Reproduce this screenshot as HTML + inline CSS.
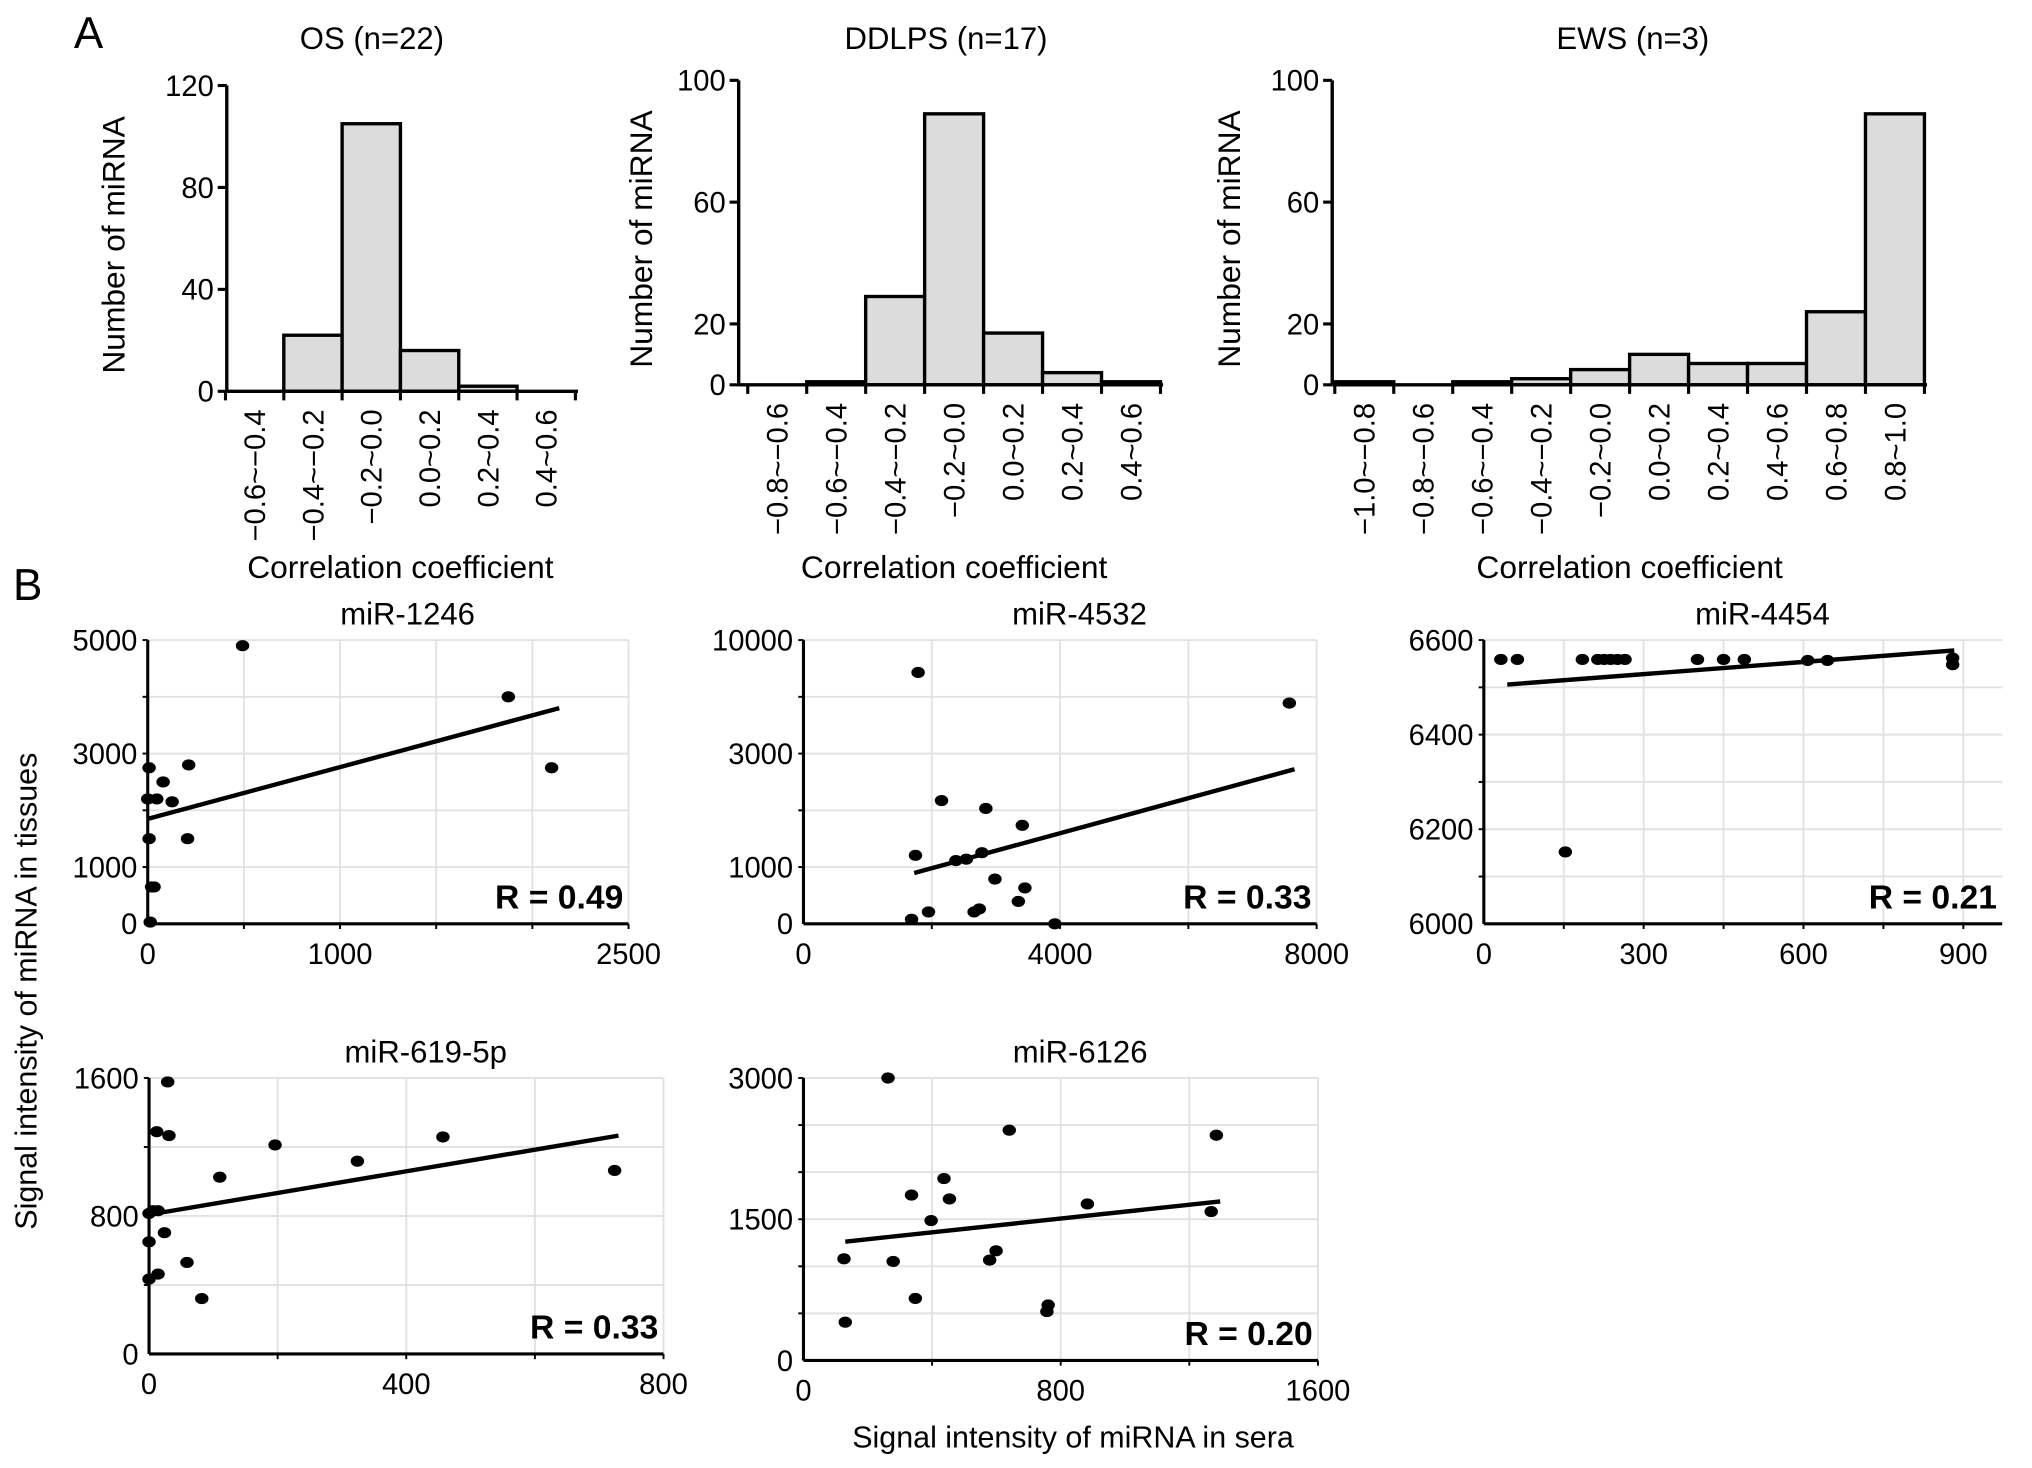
<!DOCTYPE html>
<html><head><meta charset="utf-8"><style>
html,body{margin:0;padding:0;background:#fff;}
svg{display:block;font-family:"Liberation Sans",Arial,sans-serif;}
</style></head><body>
<svg id="fig" width="2032" height="1468" viewBox="0 0 1568 1133" preserveAspectRatio="none" xmlns="http://www.w3.org/2000/svg"></svg>
<script>
// ---------- Histogram data ----------
const osCats = ["−0.6~−0.4","−0.4~−0.2","−0.2~0.0","0.0~0.2","0.2~0.4","0.4~0.6"];
const osVals = [0,22,105,16,2,0];
const osTicks = [0,40,80,120];
const ddCats = ["−0.8~−0.6","−0.6~−0.4","−0.4~−0.2","−0.2~0.0","0.0~0.2","0.2~0.4","0.4~0.6"];
const ddVals = [0,1,29,89,17,4,1];
const ddTicks = [0,20,60,100];
const ewCats = ["−1.0~−0.8","−0.8~−0.6","−0.6~−0.4","−0.4~−0.2","−0.2~0.0","0.0~0.2","0.2~0.4","0.4~0.6","0.6~0.8","0.8~1.0"];
const ewVals = [1,0,1,2,5,10,7,7,24,89];
const ewTicks = [0,20,60,100];
// ---------- Scatter data ----------
const m1246X = [493,1875,2100,213,7,80,0,47,127,7,207,20,33,13];
const m1246Y = [4900,4000,2750,2800,2750,2500,2200,2200,2150,1500,1500,650,650,30];
const m1246Line = [[0,2140],[1850,3800]];
const m4532X = [1787,7574,2152,2843,3411,1746,2376,2538,2782,2985,3452,3350,2660,2741,1949,1685,3919];
const m4532Y = [8000,6111,2172,2034,1736,1207,1115,1138,1253,789,632,395,210,263,210,79,0];
const m4532Line = [[1726,7655],[895,2724]];
const m4454X = [32,63,185,214,226,238,251,265,401,450,489,608,645,880,880,153];
const m4454Y = [6559,6559,6559,6559,6559,6559,6559,6559,6559,6559,6559,6557,6557,6562,6548,6152];
const m4454Line = [[44,883],[6506,6578]];
const m619X = [29,12,31,196,324,457,110,724,6,14,0,24,0,59,0,14,82];
const m619Y = [1577,1289,1266,1212,1118,1258,1025,1064,831,831,815,703,650,531,434,463,321];
const m619Line = [[0,730],[808,1266]];
const m6126X = [263,640,1284,437,336,454,397,599,579,126,279,348,761,757,130,883,1268];
const m6126Y = [3000,2446,2392,1932,1757,1716,1486,1164,1066,1080,1052,659,589,519,407,1662,1581];
const m6126Line = [[130,1296],[1262,1689]];

const svg = document.getElementById('fig');
const NS = "http://www.w3.org/2000/svg";
function mk(tag, attrs, parent){const e=document.createElementNS(NS,tag);for(const k in attrs)e.setAttribute(k,attrs[k]);(parent||svg).appendChild(e);return e;}
function txt(s, attrs, parent){const e=mk('text',attrs,parent);e.textContent=s;return e;}

let t;
t = txt("A",{x:57,y:37,'font-size':34});


t = txt("B",{x:10,y:463,'font-size':34});



function hist(name,title,cats,vals,ticks,ax,y0,y1,x0,bw,titleX,ytitleX){
  const g = mk('g',{});
  
  
  const ymax = ticks[ticks.length-1];
  const ys = v => y0 - (y0-y1)*v/ymax;
  let e = txt(title,{x:titleX,y:38,'font-size':24,'text-anchor':'middle'},g);
  
  
  cats.forEach((c,i)=>{
    const v = vals[i];
    const r = mk('rect',{x:x0+i*bw,y:ys(v),width:bw,height:y0-ys(v),fill:'#dcdcdc',stroke:'#000','stroke-width':2.6},g);
    
    
    const cx = x0+i*bw+bw/2;
    const l = txt(c,{x:0,y:0,'font-size':22.5,'text-anchor':'end',transform:`translate(${cx+8},${y0+14}) rotate(-90)`},g);
    
    
  });
  mk('line',{x1:ax,y1:y0,x2:x0+cats.length*bw+2,y2:y0,stroke:'#000','stroke-width':2.6},g);
  mk('line',{x1:ax,y1:y0,x2:ax,y2:y1,stroke:'#000','stroke-width':2.6},g);
  for(let i=0;i<=cats.length;i++) mk('line',{x1:x0+i*bw,y1:y0,x2:x0+i*bw,y2:y0+7,stroke:'#000','stroke-width':2.4},g);
  ticks.forEach(v=>{
    mk('line',{x1:ax-7,y1:ys(v),x2:ax,y2:ys(v),stroke:'#000','stroke-width':2.4},g);
    const l = txt(String(v),{x:ax-10,y:ys(v)+8,'font-size':22.5,'text-anchor':'end'},g);
    
    
  });
  e = txt("Number of miRNA",{x:0,y:0,'font-size':24.5,'text-anchor':'middle',transform:`translate(${ytitleX},${(y0+y1)/2+5}) rotate(-90)`},g);
  
  
  e = txt("Correlation coefficient",{x:x0+cats.length*bw/2,y:446,'font-size':24.5,'text-anchor':'middle'},g);
  
  
}
hist('os',"OS (n=22)",osCats,osVals,osTicks,175,302,66,174,45,287,96);
hist('ddlps',"DDLPS (n=17)",ddCats,ddVals,ddTicks,570,297,62,577,45.5,730,503);
hist('ews',"EWS (n=3)",ewCats,ewVals,ewTicks,1028,297,62,1030,45.5,1260,957);

function scatter(name,title,X,Y,L,box,xmax,xgrid,xlabels,yv,yf,ygridF,ylabels,rtxt){
  const [l,tp,r,b] = box;
  const g = mk('g',{});
  
  
  const xs = v => l + (r-l)*v/xmax;
  const ys = v => {
    for(let i=0;i<yv.length-1;i++){
      if(v<=yv[i+1]||i===yv.length-2){const f=yf[i]+(yf[i+1]-yf[i])*(v-yv[i])/(yv[i+1]-yv[i]);return b-(b-tp)*f;}
    }
  };
  xgrid.forEach(v=>mk('line',{x1:xs(v),y1:tp,x2:xs(v),y2:b,stroke:'#e2e2e2','stroke-width':1.5},g));
  ygridF.forEach(f=>mk('line',{x1:l,y1:b-(b-tp)*f,x2:r,y2:b-(b-tp)*f,stroke:'#e2e2e2','stroke-width':1.5},g));
  mk('line',{x1:l,y1:b,x2:r,y2:b,stroke:'#000','stroke-width':2.4},g);
  mk('line',{x1:l,y1:b,x2:l,y2:tp,stroke:'#000','stroke-width':2.4},g);
  xgrid.forEach(v=>mk('line',{x1:xs(v),y1:b,x2:xs(v),y2:b+4,stroke:'#000','stroke-width':1.5},g));
  ygridF.forEach(f=>mk('line',{x1:l-4,y1:b-(b-tp)*f,x2:l,y2:b-(b-tp)*f,stroke:'#000','stroke-width':1.5},g));
  xlabels.forEach(v=>{
    const e = txt(String(v),{x:xs(v),y:b+31,'font-size':22.5,'text-anchor':'middle'},g);
    
    
  });
  ylabels.forEach(v=>{
    const e = txt(String(v),{x:l-8,y:ys(v)+8,'font-size':22.5,'text-anchor':'end'},g);
    
    
  });
  let e = txt(title,{x:(l+r)/2+15,y:tp-12,'font-size':24,'text-anchor':'middle'},g);
  
  
  X.forEach((x,i)=>{
    const c = mk('ellipse',{cx:xs(x),cy:ys(Y[i]),rx:5.2,ry:4.3,fill:'#000'},g);
    
    
  });
  const ln = mk('line',{x1:xs(L[0][0]),y1:ys(L[1][0]),x2:xs(L[0][1]),y2:ys(L[1][1]),stroke:'#000','stroke-width':3.4},g);
  
  
  e = txt(rtxt,{x:r-4,y:b-12,'font-size':26,'font-weight':'bold','text-anchor':'end'},g);
  
  
}
const F5=[0.2,0.4,0.6,0.8,1];
scatter('mir-1246',"miR-1246",m1246X,m1246Y,m1246Line,[114,494,485,713],2500,[500,1000,1500,2000,2500],[0,1000,2500],[0,1000,5000],[0,0.2,1],F5,[0,1000,3000,5000],"R = 0.49");
scatter('mir-4532',"miR-4532",m4532X,m4532Y,m4532Line,[620,494,1016,713],8000,[2000,4000,6000,8000],[0,4000,8000],[0,1000,3000,10000],[0,0.2,0.6,1],F5,[0,1000,3000,10000],"R = 0.33");
scatter('mir-4454',"miR-4454",m4454X,m4454Y,m4454Line,[1145,494,1545,713],900*400/370,[150,300,450,600,750,900],[0,300,600,900],[6000,6600],[0,1],[1/6,2/6,3/6,4/6,5/6,1],[6000,6200,6400,6600],"R = 0.21");
scatter('mir-619-5p',"miR-619-5p",m619X,m619Y,m619Line,[115,832,512,1045],800,[200,400,600,800],[0,400,800],[0,1600],[0,1],[0.25,0.5,0.75,1],[0,800,1600],"R = 0.33");
scatter('mir-6126',"miR-6126",m6126X,m6126Y,m6126Line,[620,832,1017,1050],1600,[400,800,1200,1600],[0,800,1600],[0,3000],[0,1],[1/6,2/6,3/6,4/6,5/6,1],[0,1500,3000],"R = 0.20");

t = txt("Signal intensity of miRNA in tissues",{x:0,y:0,'font-size':23.5,'text-anchor':'middle',transform:'translate(28,765) rotate(-90)'});


t = txt("Signal intensity of miRNA in sera",{x:828,y:1117,'font-size':23.5,'text-anchor':'middle'});


</script>
</body></html>
